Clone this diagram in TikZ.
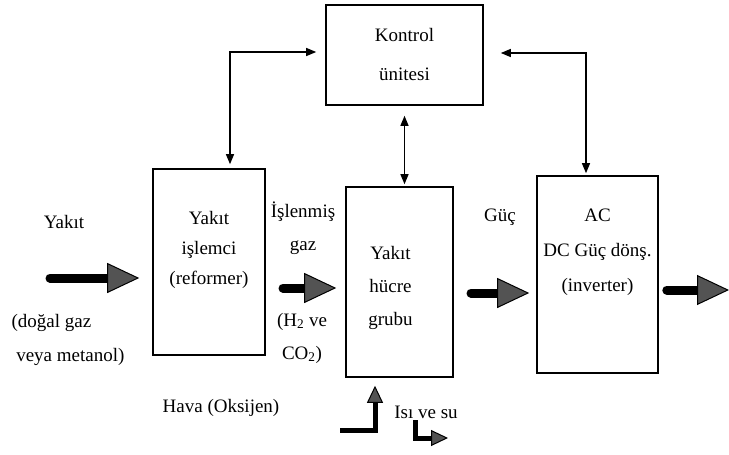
\documentclass[tikz,border=0pt]{standalone}
\usepackage{fontspec}
\setmainfont{Liberation Serif}
\usepackage{tikz}
\usetikzlibrary{positioning, arrows.meta, calc}

\tikzset{
  blok/.style={draw, line width=1.6pt, inner sep=0pt, align=center, font=\fontsize{19}{39}\selectfont},
  yazi/.style={align=center, inner sep=1pt, font=\fontsize{19}{33}\selectfont},
  ctl/.style={line width=1.3pt, {Triangle[length=10pt,width=8pt]}-{Triangle[length=10pt,width=8pt]}},
  akis/.style={line width=9pt, line cap=round, -{Triangle[length=32pt,width=30pt,fill=gray!65!black,line width=1pt]}},
  kucukakis/.style={line width=5pt, -{Triangle[length=17pt,width=16pt,fill=gray!65!black,line width=1pt]}}
}

\begin{document}
\begin{tikzpicture}[x=1pt, y=-1pt]
\useasboundingbox (0,0) rectangle (729,455);

% kutular
\node[blok, minimum width=157pt, minimum height=100pt] (ctrl) at (404.5,55) {Kontrol\\ünitesi};
\node[blok, minimum width=112pt, minimum height=186pt] (ref) at (209,262) {};
\node[blok, minimum width=107pt, minimum height=190pt] (cell) at (399.5,282) {};
\node[blok, minimum width=121pt, minimum height=197pt] (inv) at (597.5,274.5) {};

\node[yazi, font=\fontsize{19}{30}\selectfont, below=42pt of ref.north] (reftxt) {Yakıt\\işlemci\\(reformer)};
\node[yazi, below=59pt of cell.north, xshift=-9pt] (celltxt) {Yakıt\\hücre\\grubu};
\node[yazi, font=\fontsize{19}{35}\selectfont, below=33pt of inv.north] (invtxt) {AC\\DC Güç dönş.\\(inverter)};

% etiketler
\node[yazi] (yakit) at (64,222) {Yakıt};
\node[yazi, align=left, font=\fontsize{19}{34}\selectfont] (kaynak) at (68,340) {(doğal gaz\\\ veya metanol)};
\node[yazi] (islenmis) at (303,228) {İşlenmiş\\gaz};
\node[yazi] (h2) at (302,338) {(H\textsubscript{2} ve\\CO\textsubscript{2})};
\node[yazi] (guc) at (500,217) {Güç};
\node[yazi] (hava) at (221,408) {Hava (Oksijen)};
\node[yazi] (isi) at (426,412) {Isı ve su};

% akislar
\coordinate (yakitin) at (50,278);
\coordinate (gazin) at (283,288);
\coordinate (gucin) at (471,293);
\coordinate (cikis) at (729,290);
\draw[akis, shorten >=13pt] (yakitin) -- (yakitin -| ref.west);
\draw[akis, shorten >=9pt] (gazin) -- (gazin -| cell.west);
\draw[akis, shorten >=7pt] (gucin) -- (gucin -| inv.west);
\draw[akis, shorten <=8pt] (cikis -| inv.east) -- (cikis);

\coordinate (havain) at (340,430);
\coordinate (isibas) at (415,420);
\coordinate (isicikis) at (448,438);
\draw[kucukakis, shorten >=8pt] (havain) -| ([xshift=-24.5pt]cell.south);
\draw[kucukakis] (isibas) |- (isicikis);

% kontrol baglantilari
\draw[ctl, shorten <=9pt, shorten >=4pt] ([yshift=3pt]ctrl.west) -| ([xshift=21pt]ref.north);
\draw[ctl, shorten <=17pt, shorten >=2pt] ([yshift=2pt]ctrl.east) -| ([xshift=-11.5pt]inv.north);
\draw[ctl, shorten <=10pt, shorten >=2pt] (ctrl.south) -- (ctrl.south |- cell.north);
\end{tikzpicture}
\end{document}
